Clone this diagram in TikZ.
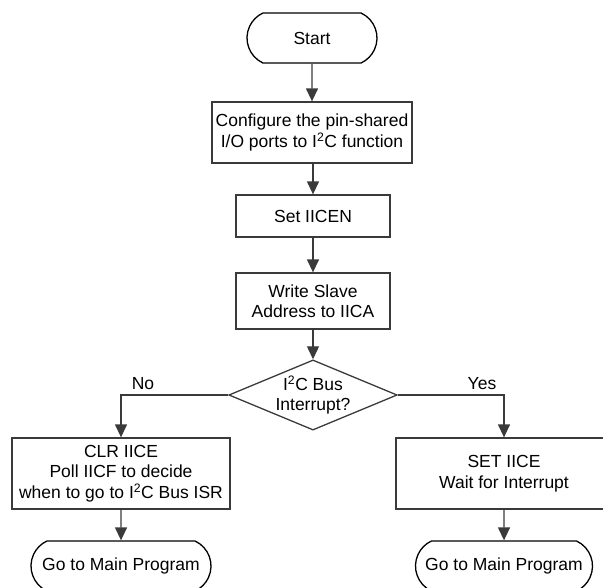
\documentclass[tikz,border=0pt]{standalone}
\usepackage{fontspec}
\setmainfont{Liberation Sans}
\usetikzlibrary{shapes.geometric,shapes.misc,arrows.meta}
\definecolor{linec}{HTML}{3A3A3A}
\tikzset{
  base/.style={draw=linec, line width=1.3pt, inner sep=0pt, align=center,
    font=\fontsize{17.5}{20.5}\selectfont, text=black},
  procbox/.style={base, rectangle},
  termnode/.style={base, rounded rectangle, rounded rectangle arc length=130, draw=black},
  decnode/.style={base, diamond, aspect=2.4},
  arr/.style={draw=linec, line width=1.3pt, -{Triangle[width=12pt,length=13pt]}},
  lbl/.style={font=\fontsize{17.5}{20.5}\selectfont, inner sep=0pt}
}
\begin{document}
\begin{tikzpicture}[x=1pt,y=-1pt]
\useasboundingbox (0,0) rectangle (603,587);
\clip (0,0) rectangle (603,587);
\node[termnode, minimum width=130pt, minimum height=50pt] (start) at (312,38) {Start};
\node[procbox, minimum width=200pt, minimum height=61pt] (cfg) at (312,132.5) {Configure the pin-shared\\I/O ports to I\textsuperscript{2}C function};
\node[procbox, minimum width=154pt, minimum height=42pt] (seten) at (313,216) {Set IICEN};
\node[procbox, minimum width=154pt, minimum height=56pt] (write) at (313,301) {Write Slave\\Address to IICA};
\node[decnode, minimum width=167pt, minimum height=70pt] (dec) at (313,395) {I\textsuperscript{2}C Bus\\Interrupt?};
\node[procbox, minimum width=218pt, minimum height=71pt] (clr) at (121,473.5) {CLR IICE\\Poll IICF to decide\\when to go to I\textsuperscript{2}C Bus ISR};
\node[procbox, minimum width=216pt, minimum height=71pt] (seti) at (504,473.5) {SET IICE\\Wait for Interrupt};
\node[termnode, minimum width=180pt, minimum height=50pt] (goL) at (121,566) {Go to Main Program};
\node[termnode, minimum width=177pt, minimum height=50pt] (goR) at (504,566) {Go to Main Program};
\draw[arr] (start) -- (cfg);
\draw[arr] (cfg.south -| seten.north) -- (seten);
\draw[arr] (seten) -- (write);
\draw[arr] (write) -- (dec);
\draw[arr] (dec.west) -| (clr.north);
\draw[arr] (dec.east) -| (seti.north);
\draw[arr] (clr) -- (goL);
\draw[arr] (seti) -- (goR);
\node[lbl] (no) at (143,384) {No};
\node[lbl] (yes) at (482,384) {Yes};
\end{tikzpicture}
\end{document}
